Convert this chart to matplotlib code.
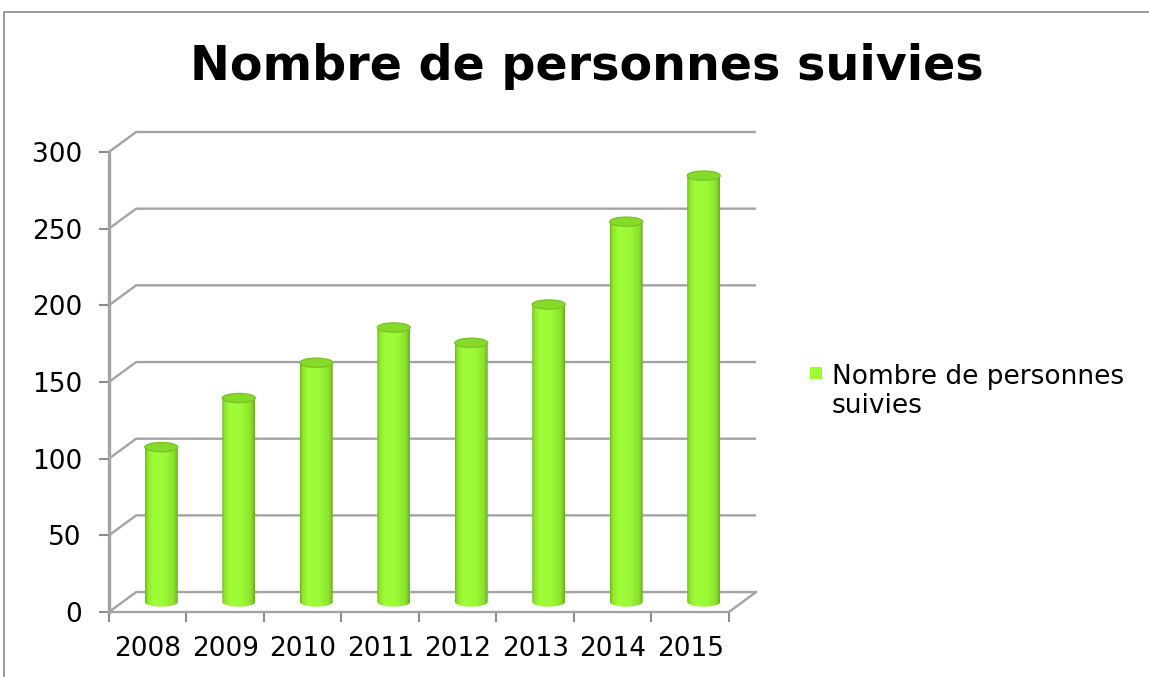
import numpy as np
import matplotlib
matplotlib.use("Agg")
import matplotlib.pyplot as plt
from matplotlib.colors import LinearSegmentedColormap
from matplotlib.patches import Ellipse, Polygon, Rectangle

years = ['2008', '2009', '2010', '2011', '2012', '2013', '2014', '2015']
persons = [101, 133, 156, 179, 169, 194, 248, 278]
yticks = [0, 50, 100, 150, 200, 250, 300]

title = 'Nombre de personnes suivies'
legend_label = 'Nombre de personnes\nsuivies'

# fake 3d: offset of the back wall, in data units
DX, DY = 0.35, 13.0
BAR_W = 0.425
CAP_H = 6.0
GRID = '#a3a3a3'

cyl = LinearSegmentedColormap.from_list('cyl', [
    (0.0, '#6cb520'), (0.08, '#8fe62c'), (0.25, '#a0fd3a'),
    (0.6, '#9cf936'), (0.88, '#8ce22a'), (1.0, '#68ad1d')])

fig = plt.figure(figsize=(11.49, 6.77), dpi=100)
ax = fig.add_axes([109/1149, 65/677, 647/1149, 480/677])
n = len(years)

# walls / grid
for v in yticks:
    ax.plot([0, DX, n + DX], [v, v + DY, v + DY], color=GRID, lw=1.7,
            clip_on=False, zorder=1, solid_capstyle='butt')
ax.plot([0, 0], [0, yticks[-1]], color=GRID, lw=2.4, clip_on=False, zorder=2)
ax.plot([0, n, n + DX], [0, 0, DY], color=GRID, lw=1.7, clip_on=False, zorder=2)

# cylinders
grad = np.linspace(0, 1, 256).reshape(1, -1)
for i, v in enumerate(persons):
    cx = i + 0.5 + DX / 2
    base = DY / 2
    top = v + DY / 2
    x0, x1 = cx - BAR_W / 2, cx + BAR_W / 2
    im = ax.imshow(grad, cmap=cyl, extent=[x0, x1, base - CAP_H / 2, top],
                   aspect='auto', interpolation='bilinear', zorder=3)
    th = np.linspace(np.pi, 2 * np.pi, 40)
    verts = np.column_stack([cx + BAR_W / 2 * np.cos(th), base + CAP_H / 2 * np.sin(th)])
    verts = np.vstack([verts, [[x1, top], [x0, top]]])
    clip = Polygon(verts, closed=True, transform=ax.transData)
    im.set_clip_path(clip)
    ax.add_patch(Ellipse((cx, top), BAR_W, CAP_H, facecolor='#86da2a',
                         edgecolor='#78c524', lw=1, zorder=4))

ax.set_xlim(0, n + DX)
ax.set_ylim(0, yticks[-1] + DY)
for s in ax.spines.values():
    s.set_visible(False)

ax.set_yticks(yticks)
ax.tick_params(axis='y', direction='out', length=7, width=1.5, color='#8c8c8c',
               labelsize=19, pad=12.5)
ax.set_xticks(range(n + 1))
ax.set_xticklabels([''] * (n + 1))
ax.set_xticks([i + 0.5 for i in range(n)], minor=True)
ax.set_xticklabels(years, minor=True)
ax.tick_params(axis='x', which='major', direction='out', length=7, width=1.5,
               color='#8c8c8c')
ax.tick_params(axis='x', which='minor', length=0, labelsize=19, pad=17)

fig.text(586.5/1149, 1 - 80/677, title, ha='center', va='baseline',
         fontsize=34.3, fontweight='bold')

# legend
fig.add_artist(Rectangle((810/1149, 1 - 379/677), 12/1149, 12/677,
                         transform=fig.transFigure, facecolor='#99ff33', edgecolor='none'))
fig.text(832/1149, 1 - 413/677, legend_label, ha='left', va='baseline',
         fontsize=19, linespacing=1.15)

# outer frame of the chart
fig.add_artist(Rectangle((4/1149, -0.05), 1.1, (677 - 12)/677 + 0.05,
                         transform=fig.transFigure, fill=False,
                         edgecolor='#8a8a8a', lw=1.2))

fig.savefig('out.png', dpi=100)
